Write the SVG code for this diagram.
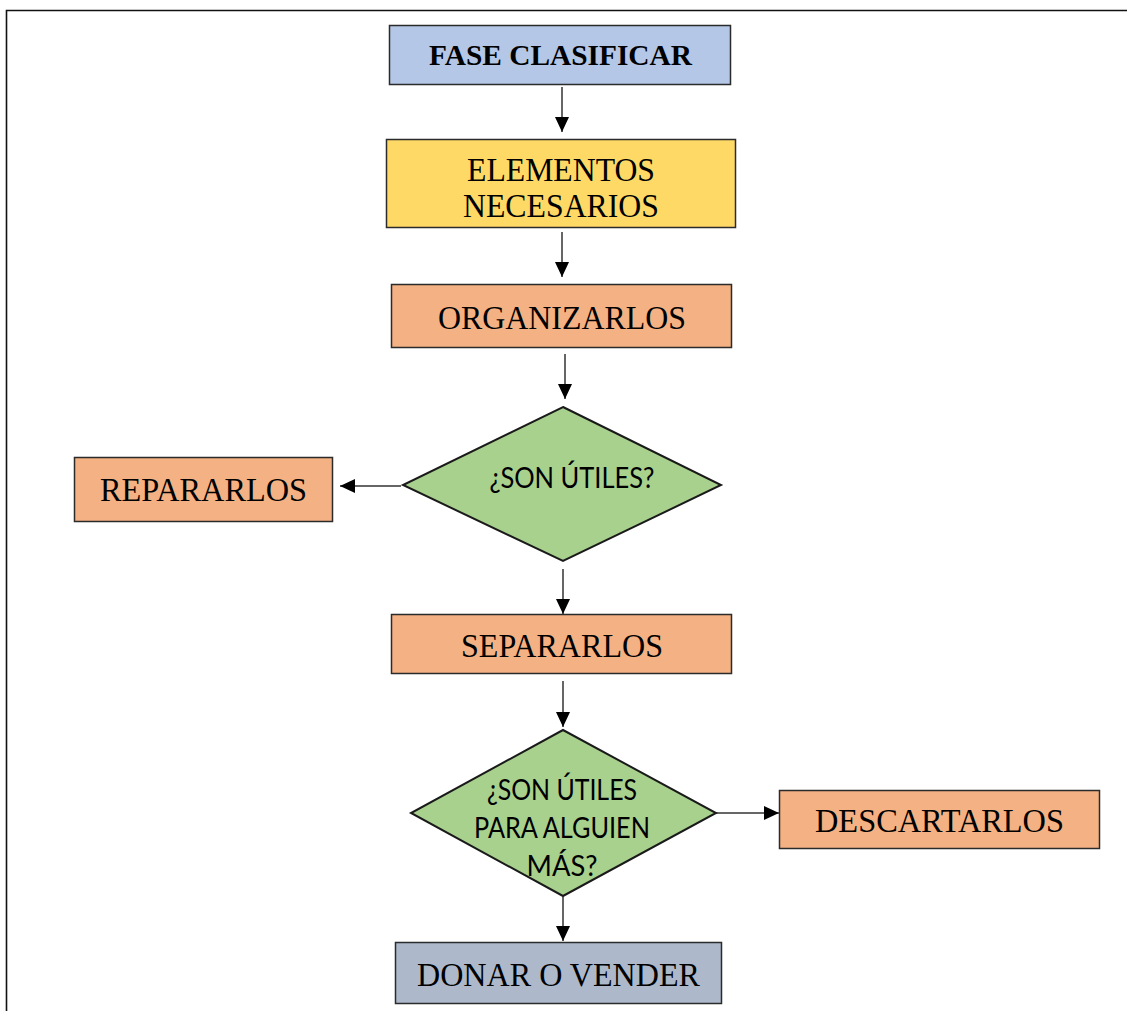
<svg xmlns="http://www.w3.org/2000/svg" width="1127" height="1011" viewBox="0 0 1127 1011">
  <style>
    .box { stroke: #2b2b2b; stroke-width: 1.5; }
    .dia { fill: #A9D18E; stroke: #1a1a1a; stroke-width: 2; stroke-linejoin: miter; }
    .serif { font-family: "Liberation Serif", "Times New Roman", serif; font-size: 33px; fill: #000; text-anchor: middle; }
    .bold { font-weight: bold; font-size: 29px; }
    .sans { font-family: Lato, "Noto Sans", "Liberation Sans", sans-serif; font-size: 28px; fill: #000; text-anchor: middle; }
    .conn { stroke: #333; stroke-width: 1.5; fill: none; marker-end: url(#head); }
  </style>
  <defs>
    <marker id="head" markerWidth="15" markerHeight="14" refX="15" refY="7" orient="auto" markerUnits="userSpaceOnUse">
      <path d="M0,0 L15,7 L0,14 Z" fill="#000"/>
    </marker>
  </defs>

  <rect width="1127" height="1011" fill="#fff"/>

  <!-- page frame -->
  <path d="M6.5,1011 V10.5 H1127" fill="none" stroke="#111" stroke-width="1.6"/>

  <!-- connectors -->
  <g id="connectors">
    <line class="conn" x1="562" y1="87" x2="562" y2="132"/>
    <line class="conn" x1="562" y1="232" x2="562" y2="277"/>
    <line class="conn" x1="565" y1="354" x2="565" y2="399"/>
    <line class="conn" x1="401" y1="486" x2="340" y2="486"/>
    <line class="conn" x1="563" y1="569" x2="563" y2="614"/>
    <line class="conn" x1="563" y1="681" x2="563" y2="727"/>
    <line class="conn" x1="716" y1="813" x2="779" y2="813"/>
    <line class="conn" x1="563" y1="897" x2="563" y2="941"/>
  </g>

  <g id="fase-clasificar">
    <rect class="box" x="389.5" y="25.5" width="341" height="59" fill="#B4C7E7"/>
    <text class="serif bold" x="560.5" y="65" textLength="263" lengthAdjust="spacingAndGlyphs">FASE CLASIFICAR</text>
  </g>

  <g id="elementos-necesarios">
    <rect class="box" x="386.5" y="139.5" width="349" height="88" fill="#FFD966"/>
    <text class="serif" x="561" y="181" textLength="188" lengthAdjust="spacingAndGlyphs">ELEMENTOS</text>
    <text class="serif" x="561" y="217" textLength="196" lengthAdjust="spacingAndGlyphs">NECESARIOS</text>
  </g>

  <g id="organizarlos">
    <rect class="box" x="391.5" y="284.5" width="340" height="63" fill="#F4B183"/>
    <text class="serif" x="562" y="329" textLength="248" lengthAdjust="spacingAndGlyphs">ORGANIZARLOS</text>
  </g>

  <g id="son-utiles">
    <polygon class="dia" points="563,407 721,485 563,561 403,485"/>
    <text class="sans" x="572" y="488" textLength="165" lengthAdjust="spacingAndGlyphs">¿SON ÚTILES?</text>
  </g>

  <g id="repararlos">
    <rect class="box" x="74.5" y="457.5" width="258" height="64" fill="#F4B183"/>
    <text class="serif" x="203.5" y="501" textLength="207" lengthAdjust="spacingAndGlyphs">REPARARLOS</text>
  </g>

  <g id="separarlos">
    <rect class="box" x="391.5" y="614.5" width="340" height="59" fill="#F4B183"/>
    <text class="serif" x="562" y="657" textLength="202" lengthAdjust="spacingAndGlyphs">SEPARARLOS</text>
  </g>

  <g id="utiles-para-alguien">
    <polygon class="dia" points="563,730 716,813 563,896 411,813"/>
    <text class="sans" x="562" y="800" textLength="150" lengthAdjust="spacingAndGlyphs">¿SON ÚTILES</text>
    <text class="sans" x="562" y="838" textLength="176" lengthAdjust="spacingAndGlyphs">PARA ALGUIEN</text>
    <text class="sans" x="562" y="876" textLength="71" lengthAdjust="spacingAndGlyphs">MÁS?</text>
  </g>

  <g id="descartarlos">
    <rect class="box" x="779.5" y="790.5" width="320" height="58" fill="#F4B183"/>
    <text class="serif" x="939.5" y="832" textLength="249" lengthAdjust="spacingAndGlyphs">DESCARTARLOS</text>
  </g>

  <g id="donar-o-vender">
    <rect class="box" x="395.5" y="942.5" width="326" height="61" fill="#ADB9CA"/>
    <text class="serif" x="558.5" y="986" textLength="283" lengthAdjust="spacingAndGlyphs">DONAR O VENDER</text>
  </g>
</svg>
